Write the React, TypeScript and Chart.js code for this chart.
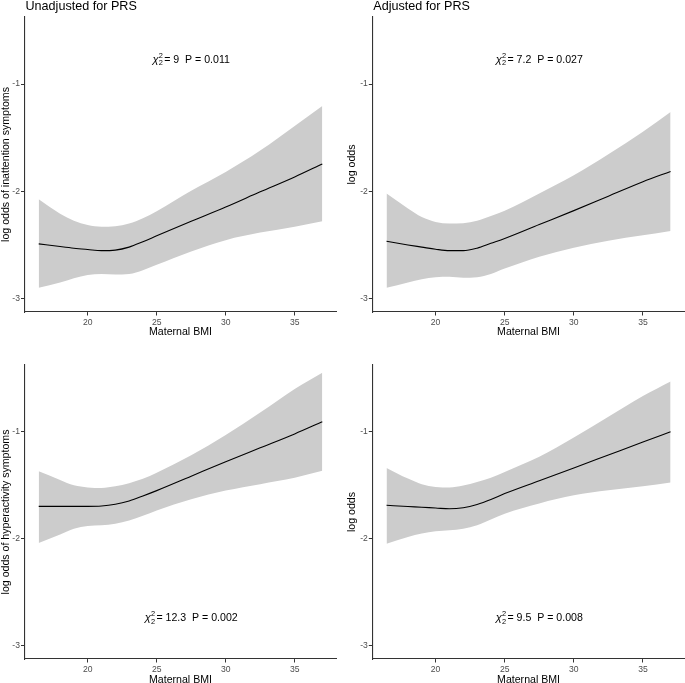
import React, { useEffect, useRef } from "react";
import { Chart, registerables } from "chart.js";

Chart.register(...registerables);

// ---- data ----
const bmi = [16.45, 18, 19, 20, 21, 22, 23, 24, 25, 27.5, 30, 32.5, 35, 37];

const inattUnadjFit = [-2.49, -2.515, -2.53, -2.542, -2.553, -2.548, -2.52, -2.47, -2.415, -2.28, -2.147, -2.005, -1.866, -1.745];
const inattUnadjUpper = [-2.075, -2.21, -2.275, -2.315, -2.33, -2.325, -2.3, -2.25, -2.185, -1.995, -1.82, -1.62, -1.39, -1.205];
const inattUnadjLower = [-2.9, -2.85, -2.81, -2.78, -2.77, -2.775, -2.77, -2.735, -2.685, -2.56, -2.455, -2.385, -2.33, -2.28];

const inattAdjFit = [-2.466, -2.5, -2.52, -2.54, -2.553, -2.553, -2.53, -2.485, -2.44, -2.31, -2.18, -2.045, -1.91, -1.815];
const inattAdjUpper = [-2.02, -2.16, -2.24, -2.285, -2.3, -2.297, -2.275, -2.23, -2.18, -2.02, -1.85, -1.655, -1.445, -1.26];
const inattAdjLower = [-2.9, -2.85, -2.82, -2.8, -2.797, -2.805, -2.8, -2.77, -2.72, -2.61, -2.525, -2.46, -2.41, -2.37];

const hyperUnadjFit = [-1.697, -1.697, -1.697, -1.697, -1.694, -1.678, -1.647, -1.6, -1.55, -1.415, -1.28, -1.15, -1.02, -0.906];
const hyperUnadjUpper = [-1.369, -1.45, -1.5, -1.52, -1.525, -1.51, -1.48, -1.44, -1.384, -1.22, -1.03, -0.82, -0.6, -0.447];
const hyperUnadjLower = [-2.04, -1.96, -1.906, -1.88, -1.875, -1.86, -1.83, -1.785, -1.735, -1.63, -1.55, -1.49, -1.43, -1.365];

const hyperAdjFit = [-1.6875, -1.698, -1.706, -1.7125, -1.72, -1.71, -1.68, -1.634, -1.578, -1.458, -1.338, -1.217, -1.096, -1.0];
const hyperAdjUpper = [-1.3375, -1.4375, -1.49, -1.516, -1.52, -1.503, -1.47, -1.43, -1.375, -1.234, -1.053, -0.86, -0.666, -0.53];
const hyperAdjLower = [-2.047, -1.984, -1.952, -1.93, -1.92, -1.906, -1.875, -1.82, -1.766, -1.67, -1.594, -1.547, -1.51, -1.475];

const xTicks = [20, 25, 30, 35];
const yTicks = [-3, -2, -1];
const xLimits = [15.42, 38.03];
const yLimits = [-3.125, -0.375];

const panelTitles = ["Unadjusted for PRS", "Adjusted for PRS", "", ""];
const yTitles = [
  "log odds of inattention symptoms",
  "log odds",
  "log odds of hyperactivity symptoms",
  "log odds",
];
const xTitle = "Maternal BMI";
const chiStats = ["9", "7.2", "12.3", "9.5"];
const pValues = ["0.011", "0.027", "0.002", "0.008"];
const annotX = 27.5;
const annotY = [-0.765, -0.765, -2.737, -2.737];

const FONT = "'Liberation Sans', Arial, Helvetica, sans-serif";
const RIBBON = "rgb(204,204,204)";
const AXIS = "#333333";

type PanelLayout = {
  left: number;
  top: number;
  w: number;
  h: number;
  padTop: number;
  padRight: number;
  yW: number;
  xH: number;
  yTitlePad: number;
  xTitlePad: number;
};

const layouts: PanelLayout[] = [
  { left: 0, top: 0, w: 342, h: 340, padTop: 17, padRight: 5.5, yW: 24.5, xH: 28, yTitlePad: 0, xTitlePad: 2 },
  { left: 342, top: 0, w: 343, h: 340, padTop: 17, padRight: 0.2, yW: 30.3, xH: 28, yTitlePad: 4, xTitlePad: 2 },
  { left: 0, top: 341, w: 342, h: 342, padTop: 24, padRight: 5.5, yW: 24.5, xH: 24, yTitlePad: 0, xTitlePad: -3.5 },
  { left: 342, top: 341, w: 343, h: 342, padTop: 24, padRight: 0.2, yW: 30.3, xH: 24, yTitlePad: 4, xTitlePad: -3.5 },
];

const series = [
  [inattUnadjFit, inattUnadjUpper, inattUnadjLower],
  [inattAdjFit, inattAdjUpper, inattAdjLower],
  [hyperUnadjFit, hyperUnadjUpper, hyperUnadjLower],
  [hyperAdjFit, hyperAdjUpper, hyperAdjLower],
];

const toPts = (ys: number[]) => bmi.map((x, i) => ({ x, y: ys[i] }));

function makeExtrasPlugin(idx: number) {
  return {
    id: "extras" + idx,
    afterDraw(chart: any) {
      const ctx = chart.ctx as CanvasRenderingContext2D;
      const area = chart.chartArea;
      ctx.save();
      // panel title
      if (panelTitles[idx]) {
        ctx.font = `12.6px ${FONT}`;
        ctx.fillStyle = "#000";
        ctx.textAlign = "left";
        ctx.textBaseline = "alphabetic";
        ctx.fillText(panelTitles[idx], area.left + 1, 10);
      }
      // annotation
      const cx = chart.scales.x.getPixelForValue(annotX);
      const cy = chart.scales.y.getPixelForValue(annotY[idx]);
      const base = cy + 3.8;
      const f = `10.6px ${FONT}`;
      const fs = `7.4px ${FONT}`;
      ctx.fillStyle = "#000";
      ctx.textAlign = "left";
      ctx.textBaseline = "alphabetic";
      ctx.font = `italic 11.2px ${FONT}`;
      const chiW = ctx.measureText("\u03C7").width;
      ctx.font = f;
      const rest = `= ${chiStats[idx]}  P = ${pValues[idx]}`;
      const restW = ctx.measureText(rest).width;
      ctx.font = fs;
      const sW = ctx.measureText("2").width;
      const total = chiW + 0.3 + sW + 1.2 + restW;
      let x = cx - total / 2;
      ctx.font = `italic 11.2px ${FONT}`;
      ctx.fillText("\u03C7", x, base);
      x += chiW + 0.3;
      ctx.font = fs;
      ctx.fillText("2", x, base - 5);
      ctx.fillText("2", x, base + 2.6);
      x += sW + 1.2;
      ctx.font = f;
      ctx.fillText(rest, x, base);
      ctx.restore();
    },
  };
}

function Panel({ idx }: { idx: number }) {
  const ref = useRef<HTMLCanvasElement | null>(null);
  const L = layouts[idx];
  useEffect(() => {
    if (!ref.current) return;
    const [fit, upper, lower] = series[idx];
    const chart = new Chart(ref.current, {
      type: "line",
      data: {
        datasets: [
          {
            data: toPts(lower),
            borderWidth: 0,
            borderColor: "rgba(0,0,0,0)",
            backgroundColor: RIBBON,
            pointRadius: 0,
            fill: false,
            order: 2,
          },
          {
            data: toPts(upper),
            borderWidth: 0,
            borderColor: "rgba(0,0,0,0)",
            backgroundColor: RIBBON,
            pointRadius: 0,
            fill: "-1",
            order: 2,
          },
          {
            data: toPts(fit),
            borderWidth: 1.1,
            borderColor: "#000",
            pointRadius: 0,
            fill: false,
            order: 0,
          },
        ],
      },
      options: {
        animation: false,
        responsive: false,
        maintainAspectRatio: false,
        devicePixelRatio: 1,
        events: [],
        layout: {
          autoPadding: false,
          padding: { top: L.padTop, left: 0, right: L.padRight, bottom: 0 },
        },
        elements: { line: { cubicInterpolationMode: "monotone" } },
        plugins: {
          legend: { display: false },
          tooltip: { enabled: false },
          title: { display: false },
          filler: { drawTime: "beforeDatasetsDraw" },
        },
        scales: {
          x: {
            type: "linear",
            min: xLimits[0],
            max: xLimits[1],
            afterBuildTicks: (s: any) => {
              s.ticks = xTicks.map((v) => ({ value: v }));
            },
            afterFit: (s: any) => {
              s.height = L.xH;
            },
            grid: {
              display: true,
              drawOnChartArea: false,
              drawTicks: true,
              tickLength: 3.5,
              color: AXIS,
              lineWidth: 1,
            },
            border: { display: true, color: AXIS, width: 1.1 },
            ticks: {
              color: "#4d4d4d",
              font: { size: 8.6, family: FONT },
              padding: 1.5,
              maxRotation: 0,
              autoSkip: false,
            },
            title: {
              display: true,
              text: xTitle,
              color: "#000",
              font: { size: 10.6, family: FONT },
              padding: { top: 0, bottom: L.xTitlePad },
            },
          },
          y: {
            type: "linear",
            min: yLimits[0],
            max: yLimits[1],
            afterBuildTicks: (s: any) => {
              s.ticks = yTicks.map((v) => ({ value: v }));
            },
            afterFit: (s: any) => {
              s.width = L.yW;
            },
            grid: {
              display: true,
              drawOnChartArea: false,
              drawTicks: true,
              tickLength: 3.5,
              color: AXIS,
              lineWidth: 1,
            },
            border: { display: true, color: AXIS, width: 1.1 },
            ticks: {
              color: "#4d4d4d",
              font: { size: 8.6, family: FONT },
              padding: 1,
              autoSkip: false,
            },
            title: {
              display: true,
              text: yTitles[idx],
              color: "#000",
              font: { size: 10.6, family: FONT },
              padding: { top: L.yTitlePad, bottom: 0 },
            },
          },
        },
      } as any,
      plugins: [makeExtrasPlugin(idx)],
    });
    return () => chart.destroy();
  }, [idx]);
  return (
    <canvas
      ref={ref}
      width={L.w}
      height={L.h}
      style={{
        position: "absolute",
        left: L.left,
        top: L.top,
        width: L.w,
        height: L.h,
        display: "block",
      }}
    />
  );
}

export default function App() {
  return (
    <div
      style={{
        position: "absolute",
        left: 0,
        top: 0,
        width: 685,
        height: 683,
        background: "#fff",
        overflow: "hidden",
      }}
    >
      {[0, 1, 2, 3].map((i) => (
        <Panel key={i} idx={i} />
      ))}
    </div>
  );
}
